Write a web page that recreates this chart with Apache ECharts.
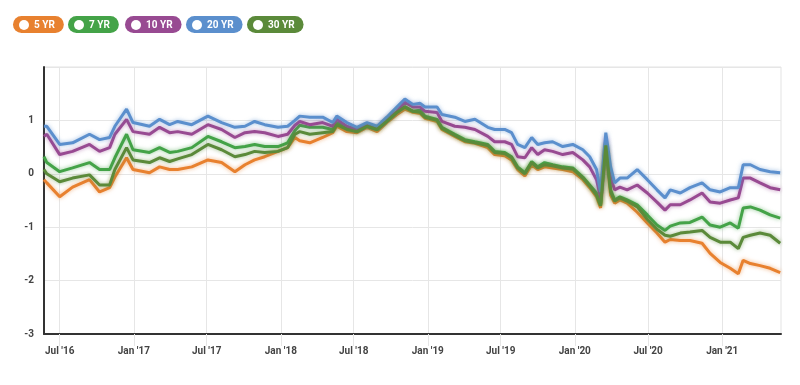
<!DOCTYPE html>
<html>
<head>
<meta charset="utf-8">
<script src="https://cdn.jsdelivr.net/npm/echarts@6/dist/echarts.min.js"></script>
<style>
  html, body { margin: 0; padding: 0; background: #fff; }
  #chart { width: 800px; height: 385px; }
</style>
</head>
<body>
<div id="chart"></div>
<script>
// dates of the sampled points
var dates = ['2016-05-23','2016-05-30','2016-07-01','2016-08-02','2016-09-13','2016-10-08','2016-11-02','2016-11-15','2016-12-14','2016-12-30',
  '2017-02-09','2017-03-06','2017-03-31','2017-04-20','2017-05-25','2017-07-04','2017-08-07','2017-09-09','2017-10-04','2017-10-28','2017-11-22','2017-12-25',
  '2018-01-18','2018-02-05','2018-02-17','2018-03-14','2018-04-15','2018-05-10','2018-05-20','2018-06-14','2018-07-09','2018-08-03','2018-08-28','2018-09-21','2018-10-16','2018-11-05','2018-11-25','2018-12-13','2018-12-25',
  '2019-01-24','2019-02-05','2019-03-09','2019-04-03','2019-04-28','2019-05-30','2019-06-16','2019-07-11','2019-07-28','2019-08-12','2019-08-30','2019-09-16','2019-10-01','2019-10-18','2019-11-07','2019-12-02','2019-12-27',
  '2020-01-21','2020-02-07','2020-02-24','2020-03-05','2020-03-18','2020-03-30','2020-04-09','2020-04-22','2020-05-10','2020-06-04','2020-06-29','2020-07-23','2020-08-12','2020-08-25','2020-09-19','2020-10-13','2020-11-12','2020-12-02','2020-12-27',
  '2021-01-21','2021-02-10','2021-02-22','2021-03-12','2021-04-05','2021-04-30','2021-05-25'];

var yr5 = [-0.11,-0.17,-0.43,-0.25,-0.11,-0.34,-0.26,-0.06,0.30,0.08,
  0.02,0.13,0.08,0.08,0.13,0.26,0.21,0.04,0.17,0.26,0.32,0.42,
  0.49,0.68,0.62,0.58,0.68,0.77,0.89,0.79,0.77,0.87,0.79,0.96,1.11,1.21,1.15,1.13,1.04,
  0.98,0.83,0.70,0.60,0.57,0.49,0.36,0.34,0.26,0.08,-0.04,0.17,0.08,0.13,0.11,0.08,0.04,
  -0.11,-0.26,-0.43,-0.64,0.45,-0.40,-0.55,-0.49,-0.55,-0.72,-0.92,-1.11,-1.28,-1.23,-1.25,-1.25,-1.30,-1.49,-1.66,
  -1.77,-1.87,-1.62,-1.68,-1.72,-1.77,-1.85];

var yr7 = [0.32,0.21,0.04,0.11,0.21,0.08,0.08,0.30,0.74,0.45,
  0.40,0.49,0.40,0.42,0.49,0.70,0.60,0.49,0.51,0.55,0.51,0.51,
  0.58,0.81,0.91,0.87,0.87,0.83,0.96,0.87,0.79,0.89,0.83,0.98,1.15,1.26,1.17,1.19,1.08,
  1.02,0.87,0.74,0.64,0.60,0.55,0.42,0.40,0.32,0.13,0.02,0.23,0.13,0.21,0.17,0.13,0.11,
  -0.06,-0.21,-0.36,-0.58,0.55,-0.30,-0.49,-0.43,-0.49,-0.58,-0.77,-0.96,-1.06,-0.98,-0.92,-0.91,-0.81,-0.96,-1.00,
  -0.92,-1.02,-0.64,-0.62,-0.68,-0.77,-0.83];

var yr10 = [0.70,0.74,0.36,0.42,0.55,0.42,0.49,0.74,1.02,0.79,
  0.74,0.87,0.77,0.79,0.74,0.92,0.83,0.68,0.77,0.79,0.77,0.70,
  0.74,0.91,0.98,0.92,0.96,0.89,1.02,0.89,0.83,0.92,0.87,1.02,1.17,1.34,1.25,1.25,1.17,
  1.15,0.98,0.89,0.87,0.83,0.70,0.60,0.60,0.55,0.32,0.30,0.49,0.36,0.45,0.42,0.36,0.40,
  0.26,0.13,-0.11,-0.45,0.68,-0.08,-0.30,-0.25,-0.30,-0.21,-0.36,-0.53,-0.68,-0.58,-0.58,-0.49,-0.36,-0.53,-0.55,
  -0.49,-0.45,-0.08,-0.08,-0.17,-0.26,-0.30];

var yr20 = [0.89,0.89,0.55,0.58,0.74,0.64,0.68,0.89,1.21,0.96,
  0.89,1.02,0.92,0.98,0.92,1.08,0.96,0.87,0.89,0.98,0.92,0.87,
  0.89,1.00,1.08,1.06,1.06,0.96,1.08,0.96,0.87,0.96,0.89,1.06,1.25,1.40,1.30,1.32,1.25,
  1.25,1.11,1.06,0.98,1.02,0.87,0.83,0.83,0.77,0.55,0.49,0.68,0.55,0.58,0.60,0.51,0.55,
  0.45,0.32,0.08,-0.34,0.77,0.13,-0.17,-0.08,-0.08,0.08,-0.11,-0.30,-0.45,-0.30,-0.36,-0.26,-0.17,-0.30,-0.34,
  -0.26,-0.26,0.17,0.17,0.08,0.04,0.02];

var yr30 = [0.08,0.00,-0.15,-0.08,-0.02,-0.21,-0.21,0.08,0.49,0.26,
  0.21,0.30,0.23,0.28,0.36,0.55,0.45,0.32,0.36,0.42,0.40,0.42,
  0.49,0.74,0.79,0.74,0.77,0.79,0.92,0.83,0.79,0.89,0.83,0.98,1.15,1.25,1.17,1.15,1.06,
  1.00,0.85,0.72,0.62,0.58,0.53,0.40,0.38,0.30,0.11,0.00,0.21,0.11,0.17,0.15,0.11,0.09,
  -0.08,-0.23,-0.40,-0.60,0.53,-0.34,-0.51,-0.45,-0.51,-0.62,-0.85,-1.04,-1.15,-1.17,-1.11,-1.09,-1.06,-1.19,-1.28,
  -1.28,-1.40,-1.19,-1.15,-1.11,-1.15,-1.30];

var seriesNames = ['5 YR', '7 YR', '10 YR', '20 YR', '30 YR'];
var seriesColors = ['#e8812f', '#44a348', '#984a92', '#5b8fcd', '#5b8a3a'];
var legendLeft = [13, 68, 125, 186, 247];

// x axis label positions: every half year
var tickDates = ['2016-07-01','2017-01-01','2017-07-01','2018-01-01','2018-07-01','2019-01-01','2019-07-01','2020-01-01','2020-07-01','2021-01-01'];
var monthNames = ['Jan','Feb','Mar','Apr','May','Jun','Jul','Aug','Sep','Oct','Nov','Dec'];

function toTime(s) {
  var p = s.split('-');
  return Date.UTC(+p[0], +p[1] - 1, +p[2]);
}

var tickValues = tickDates.map(toTime);
var allData = [yr5, yr7, yr10, yr20, yr30];

var chart = echarts.init(document.getElementById('chart'));

var legends = seriesNames.map(function (name, i) {
  return {
    data: [name],
    left: legendLeft[i],
    top: 16,
    icon: 'circle',
    itemWidth: 10,
    itemHeight: 10,
    itemGap: 4,
    padding: [4, 9, 3, 6],
    backgroundColor: seriesColors[i],
    borderRadius: 9,
    itemStyle: { color: '#fff', borderWidth: 0 },
    textStyle: { color: '#fff', fontFamily: 'Roboto', fontWeight: 'bold', fontSize: 10 }
  };
});

var series = seriesNames.map(function (name, i) {
  return {
    name: name,
    type: 'line',
    showSymbol: false,
    symbol: 'none',
    color: seriesColors[i],
    lineStyle: {
      width: 3,
      color: seriesColors[i],
      shadowColor: seriesColors[i] + '99',
      shadowBlur: 4
    },
    data: dates.map(function (d, k) { return [toTime(d), allData[i][k]]; })
  };
});

var option = {
  animation: false,
  legend: legends,
  grid: {
    left: 44, right: 19, top: 67, bottom: 51,
    show: true, borderColor: '#e3e3e3', borderWidth: 1
  },
  xAxis: {
    type: 'value',
    min: toTime('2016-05-23'),
    max: toTime('2021-05-27'),
    axisLine: { show: true, onZero: false, lineStyle: { color: '#333', width: 2 } },
    axisTick: { show: true, customValues: tickValues, length: 12, lineStyle: { color: '#e6e6e6' } },
    axisLabel: {
      customValues: tickValues,
      margin: 12,
      color: '#444',
      fontFamily: 'Roboto',
      fontWeight: 'bold',
      fontSize: 10,
      formatter: function (v) {
        var d = new Date(v);
        return monthNames[d.getUTCMonth()] + " '" + String(d.getUTCFullYear()).slice(2);
      }
    },
    splitLine: { show: true, lineStyle: { color: '#e6e6e6' } }
  },
  yAxis: {
    type: 'value',
    min: -3,
    max: 2,
    interval: 1,
    axisLine: { show: true, onZero: false, lineStyle: { color: '#333', width: 2 } },
    axisTick: { show: false },
    axisLabel: {
      margin: 10,
      color: '#444',
      fontFamily: 'Roboto',
      fontWeight: 'bold',
      fontSize: 10,
      padding: [0, 0, 9, 0],
      formatter: function (v) { return v === 2 ? '' : String(v); }
    },
    splitLine: { show: true, lineStyle: { color: '#e6e6e6' } }
  },
  series: series
};

chart.setOption(option);
</script>
</body>
</html>
